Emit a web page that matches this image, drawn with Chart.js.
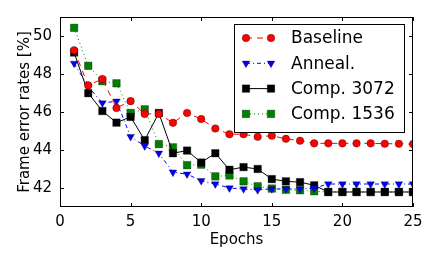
<!DOCTYPE html>
<html>
<head>
<meta charset="utf-8">
<script src="https://cdn.jsdelivr.net/npm/chart.js@4.4.0/dist/chart.umd.min.js"></script>
<style>
  html, body { margin: 0; padding: 0; background: #fff; }
  #wrap { width: 438px; height: 263px; }
</style>
</head>
<body>
<div id="wrap"><canvas id="graf"></canvas></div>
<script>
const epochs = [1, 2, 3, 4, 5, 6, 7, 8, 9, 10, 11, 12, 13, 14, 15, 16, 17, 18, 19, 20, 21, 22, 23, 24, 25];

const baseline = [49.25, 47.4, 47.74, 46.21, 46.57, 45.9, 45.9, 45.43, 45.95, 45.63, 45.13, 44.83, 44.83,
  44.7, 44.75, 44.59, 44.49, 44.35, 44.35, 44.35, 44.35, 44.35, 44.33, 44.33, 44.31];
const anneal = [48.56, 47.34, 46.47, 46.57, 44.7, 44.21, 43.83, 42.83, 42.73, 42.38, 42.21, 42.0, 41.95,
  41.9, 41.95, 41.95, 41.95, 42.0, 42.21, 42.21, 42.21, 42.21, 42.21, 42.21, 42.21];
const comp3072 = [49.13, 46.99, 46.05, 45.44, 45.74, 44.52, 45.95, 43.83, 43.97, 43.34, 43.83, 42.96, 43.1,
  43.0, 42.47, 42.35, 42.31, 42.14, 41.79, 41.79, 41.79, 41.79, 41.79, 41.79, 41.79];
const comp1536 = [50.43, 48.43, 47.62, 47.51, 45.95, 46.14, 44.31, 44.14, 43.2, 43.23, 42.61, 42.66, 42.35,
  42.09, 41.97, 41.91, 41.88, 41.83, 41.79, 41.79, 41.79, 41.79, 41.79, 41.79, 41.79];

const seriesNames = ['Baseline', 'Anneal.', 'Comp. 3072', 'Comp. 1536'];
const xTicks = [0, 5, 10, 15, 20, 25];
const yTicks = [42, 44, 46, 48, 50];

const fonte = 'DejaVu Sans';

function pontos(valores) {
  return valores.map((v, i) => ({ x: epochs[i], y: v }));
}

// caixa, ticks para dentro e legenda no canto
const moldura = {
  id: 'moldura',
  afterDatasetsDraw(chart) {
    const { ctx, chartArea: a, scales } = chart;
    ctx.save();
    ctx.strokeStyle = '#000';
    ctx.lineWidth = 1;
    ctx.strokeRect(a.left + 0.5, a.top + 0.5, a.right - a.left - 1, a.bottom - a.top - 1);
    ctx.beginPath();
    xTicks.forEach(t => {
      const px = Math.round(scales.x.getPixelForValue(t)) + 0.5;
      ctx.moveTo(px, a.bottom); ctx.lineTo(px, a.bottom - 4);
      ctx.moveTo(px, a.top); ctx.lineTo(px, a.top + 4);
    });
    yTicks.forEach(t => {
      const py = Math.round(scales.y.getPixelForValue(t)) + 0.5;
      ctx.moveTo(a.left, py); ctx.lineTo(a.left + 4, py);
      ctx.moveTo(a.right, py); ctx.lineTo(a.right - 4, py);
    });
    ctx.stroke();

    // legenda
    const bx = 234, by = 24, bw = 170, bh = 108;
    ctx.fillStyle = '#fff';
    ctx.fillRect(bx, by, bw, bh);
    ctx.strokeRect(bx + 0.5, by + 0.5, bw, bh);
    chart.data.datasets.forEach((ds, i) => {
      const y = by + 14 + i * 25.3;
      ctx.save();
      ctx.strokeStyle = ds.borderColor;
      ctx.lineWidth = ds.borderWidth;
      ctx.setLineDash(ds.borderDash);
      ctx.beginPath();
      ctx.moveTo(246, y); ctx.lineTo(271, y);
      ctx.stroke();
      ctx.restore();
      [246, 271].forEach(px => {
        ctx.save();
        ctx.fillStyle = ds.pointBackgroundColor;
        ctx.strokeStyle = ds.pointBorderColor;
        ctx.lineWidth = ds.pointBorderWidth;
        Chart.helpers.drawPoint(ctx, {
          pointStyle: ds.pointStyle,
          radius: ds.pointRadius,
          rotation: ds.pointRotation || 0,
          borderWidth: ds.pointBorderWidth
        }, px, y);
        ctx.restore();
      });
      ctx.fillStyle = '#000';
      ctx.font = '17px "' + fonte + '"';
      ctx.textBaseline = 'middle';
      ctx.fillText(seriesNames[i], 291, y + 1);
    });
    ctx.restore();
  }
};

const datasets = [
  { label: seriesNames[0], data: pontos(baseline), borderColor: '#ff0000', backgroundColor: '#ff0000',
    borderDash: [6, 5], pointStyle: 'circle', pointRadius: 3.8 },
  { label: seriesNames[1], data: pontos(anneal), borderColor: '#0000ff', backgroundColor: '#0000ff',
    borderDash: [4, 3, 1, 3], pointStyle: 'triangle', pointRadius: 4.4, pointRotation: 180 },
  { label: seriesNames[2], data: pontos(comp3072), borderColor: '#000000', backgroundColor: '#000000',
    borderDash: [], pointStyle: 'rect', pointRadius: 5.3 },
  { label: seriesNames[3], data: pontos(comp1536), borderColor: '#008000', backgroundColor: '#008000',
    borderDash: [1, 3], pointStyle: 'rect', pointRadius: 5.3 }
].map(d => Object.assign({
  borderWidth: 1,
  pointBorderColor: 'rgba(0,0,0,0.55)',
  pointBorderWidth: 0.6,
  pointBackgroundColor: d.backgroundColor,
  tension: 0
}, d));

new Chart(document.getElementById('graf'), {
  type: 'line',
  data: { datasets },
  options: {
    responsive: true,
    maintainAspectRatio: false,
    animation: false,
    events: [],
    layout: { padding: { left: 0, right: 25, top: 15, bottom: 0 } },
    plugins: { legend: { display: false }, tooltip: { enabled: false } },
    scales: {
      x: {
        type: 'linear', min: 0, max: 25,
        afterBuildTicks: s => { s.ticks = xTicks.map(v => ({ value: v })); },
        afterFit: s => { s.height = 56; },
        grid: { display: false, drawTicks: false },
        border: { display: false },
        ticks: { color: '#000', padding: 6, font: { family: fonte, size: 15 } },
        title: { display: true, text: 'Epochs', color: '#000', padding: { top: 0, bottom: 14 },
          font: { family: fonte, size: 15 } }
      },
      y: {
        min: 41, max: 51,
        afterBuildTicks: s => { s.ticks = yTicks.map(v => ({ value: v })); },
        afterFit: s => { s.width = 60; },
        grid: { display: false, drawTicks: false },
        border: { display: false },
        ticks: { color: '#000', padding: 8, font: { family: fonte, size: 15 } },
        title: { display: true, text: 'Frame error rates [%]', color: '#000', padding: { top: 16, bottom: 0 },
          font: { family: fonte, size: 15 } }
      }
    }
  },
  plugins: [moldura]
});
</script>
</body>
</html>
